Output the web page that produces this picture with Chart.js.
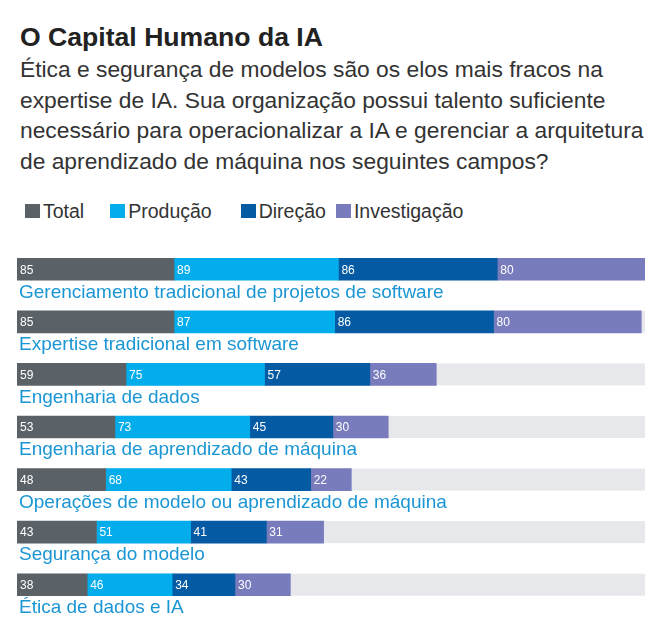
<!DOCTYPE html>
<html>
<head>
<meta charset="utf-8">
<script src="https://cdn.jsdelivr.net/npm/chart.js@4.4.1/dist/chart.umd.min.js"></script>
<style>
  html, body { margin: 0; padding: 0; background: #fff; }
  body { width: 660px; height: 629px; position: relative; overflow: hidden; font-family: "Liberation Sans", Arial, sans-serif; }
  h1 { position: absolute; left: 20px; top: 22px; margin: 0; font-size: 26.6px; font-weight: bold; color: #222; line-height: 30px; white-space: nowrap; }
  .sub { position: absolute; left: 20px; top: 54px; margin: 0; font-size: 22.8px; color: #333; line-height: 30.6px; white-space: nowrap; }
  .legend { position: absolute; left: 25px; top: 200px; height: 22px; display: flex; align-items: center; font-size: 19.5px; color: #333; }
  .legend span.box { display: inline-block; width: 15px; height: 14px; margin-right: 3px; }
  .legend .item { display: flex; align-items: center; }
  .wrap { position: absolute; left: 0; top: 243px; width: 660px; height: 386px; }
</style>
</head>
<body>
<h1>O Capital Humano da IA</h1>
<p class="sub">Ética e segurança de modelos são os elos mais fracos na<br>expertise de IA. Sua organização possui talento suficiente<br>necessário para operacionalizar a IA e gerenciar a arquitetura<br>de aprendizado de máquina nos seguintes campos?</p>
<div class="legend" id="legend"></div>
<div class="wrap"><canvas id="barChart"></canvas></div>
<script>
const categories = [
  'Gerenciamento tradicional de projetos de software',
  'Expertise tradicional em software',
  'Engenharia de dados',
  'Engenharia de aprendizado de máquina',
  'Operações de modelo ou aprendizado de máquina',
  'Segurança do modelo',
  'Ética de dados e IA'
];
const seriesNames = ['Total', 'Produção', 'Direção', 'Investigação'];
const total = [85, 85, 59, 53, 48, 43, 38];
const producao = [89, 87, 75, 73, 68, 51, 46];
const direcao = [86, 86, 57, 45, 43, 41, 34];
const investigacao = [80, 80, 36, 30, 22, 31, 30];
const colors = ['#5b6267', '#03adec', '#045aa3', '#787cbd'];
const axisMax = 340;

// legend (gaps between items are uneven in the original)
const legendGaps = [0, 26, 29, 10];
const legendEl = document.getElementById('legend');
seriesNames.forEach((name, i) => {
  const item = document.createElement('div');
  item.className = 'item';
  item.style.marginLeft = legendGaps[i] + 'px';
  item.innerHTML = '<span class="box" style="background:' + colors[i] + '"></span>' + name;
  legendEl.appendChild(item);
});

// grey track behind each bar
const trackPlugin = {
  id: 'track',
  beforeDatasetsDraw(chart) {
    const { ctx, chartArea } = chart;
    const meta = chart.getDatasetMeta(0);
    ctx.save();
    ctx.fillStyle = '#e6e8eb';
    meta.data.forEach(bar => {
      const h = bar.height;
      ctx.fillRect(chartArea.left, bar.y - h / 2, chartArea.right - chartArea.left, h);
    });
    ctx.restore();
  }
};

// value inside each segment + category name under the bar
const labelPlugin = {
  id: 'labels',
  afterDatasetsDraw(chart) {
    const { ctx } = chart;
    ctx.save();
    ctx.textBaseline = 'middle';
    ctx.textAlign = 'left';
    ctx.fillStyle = '#fff';
    ctx.font = '12px "Liberation Sans", Arial, sans-serif';
    chart.data.datasets.forEach((ds, i) => {
      chart.getDatasetMeta(i).data.forEach((bar, j) => {
        const left = Math.min(bar.x, bar.base);
        ctx.fillText(ds.data[j], left + 3, bar.y + 1);
      });
    });
    ctx.fillStyle = '#1b96d4';
    ctx.font = '19px "Liberation Sans", Arial, sans-serif';
    chart.getDatasetMeta(0).data.forEach((bar, j) => {
      ctx.fillText(categories[j], chart.chartArea.left + 2, bar.y + bar.height / 2 + 12);
    });
    ctx.restore();
  }
};

const seriesData = [total, producao, direcao, investigacao];

new Chart(document.getElementById('barChart').getContext('2d'), {
  type: 'bar',
  data: {
    labels: categories,
    datasets: seriesNames.map((name, i) => ({
      label: name,
      data: seriesData[i],
      backgroundColor: colors[i]
    }))
  },
  options: {
    indexAxis: 'y',
    responsive: true,
    maintainAspectRatio: false,
    animation: false,
    barThickness: 22,
    layout: { padding: { left: 17, right: 15, top: 0, bottom: 18 } },
    plugins: {
      legend: { display: false },
      tooltip: { enabled: false }
    },
    scales: {
      x: { stacked: true, min: 0, max: axisMax, display: false },
      y: { stacked: true, display: false }
    }
  },
  plugins: [trackPlugin, labelPlugin]
});
</script>
</body>
</html>
